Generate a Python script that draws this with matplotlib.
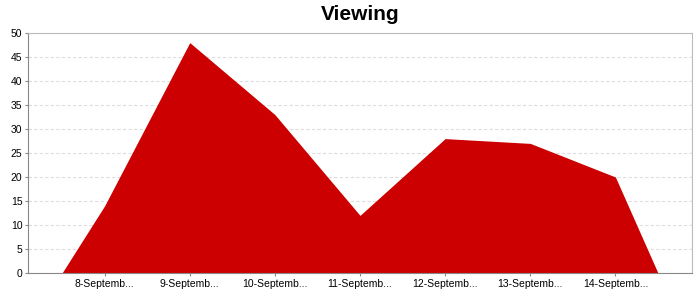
import matplotlib
matplotlib.use("Agg")
import matplotlib.pyplot as plt

categories = ["8-Septemb...", "9-Septemb...", "10-Septemb...", "11-Septemb...",
              "12-Septemb...", "13-Septemb...", "14-Septemb..."]
values = [14, 48, 33, 12, 28, 27, 20]

plt.rcParams['font.family'] = ['Liberation Sans', 'DejaVu Sans']
fig = plt.figure(figsize=(7, 3), dpi=100)
ax = fig.add_axes([0.04, 0.09, 0.9486, 0.80])

n = len(values)
xs = [-0.5] + list(range(n)) + [n - 0.5]
ys = [0] + values + [0]
ax.fill_between(xs, ys, 0, color="#CC0000", linewidth=0, zorder=2)

ax.set_xlim(-0.9, n - 1 + 0.9)
ax.set_ylim(0, 50)
ax.set_yticks(range(0, 51, 5))
ax.set_xticks(range(n))
ax.set_xticklabels(categories)
ax.tick_params(axis='both', labelsize=7.5, length=2, color="#888888", pad=2)
ax.yaxis.grid(True, linestyle=(0, (3, 2)), color="#DDDDDD", linewidth=0.8, zorder=0)
ax.set_axisbelow(True)
for s in ["left", "bottom"]:
    ax.spines[s].set_color("#888888")
for s in ["top", "right"]:
    ax.spines[s].set_color("#BBBBBB")
ax.set_title("Viewing", fontsize=15, fontweight="bold", pad=9)
fig.savefig("out.png", dpi=100)
